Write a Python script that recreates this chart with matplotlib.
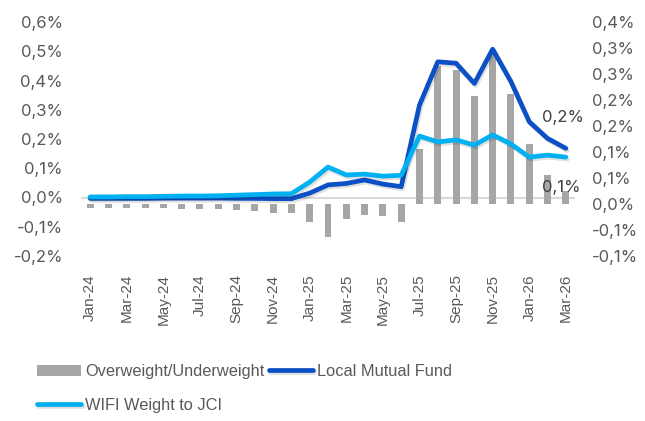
import matplotlib
matplotlib.use('Agg')
import matplotlib.pyplot as plt
import matplotlib.patheffects as pe
from matplotlib.transforms import blended_transform_factory
from decimal import Decimal, ROUND_HALF_UP
import numpy as np

# ----------------------------------------------------------------------------
# Data, monthly Jan-24 .. Mar-26
# ----------------------------------------------------------------------------
months = ['Jan-24', 'Feb-24', 'Mar-24', 'Apr-24', 'May-24', 'Jun-24', 'Jul-24',
          'Aug-24', 'Sep-24', 'Oct-24', 'Nov-24', 'Dec-24',
          'Jan-25', 'Feb-25', 'Mar-25', 'Apr-25', 'May-25', 'Jun-25', 'Jul-25',
          'Aug-25', 'Sep-25', 'Oct-25', 'Nov-25', 'Dec-25',
          'Jan-26', 'Feb-26', 'Mar-26']

# Local Mutual Fund weight (%), left axis
local_mf = [-0.003, -0.003, -0.003, -0.003, -0.002, -0.002, -0.002,
            -0.002, -0.003, -0.003, -0.004, -0.004,
            0.015, 0.043, 0.048, 0.060, 0.046, 0.037, 0.316,
            0.464, 0.459, 0.390, 0.507, 0.396,
            0.259, 0.202, 0.168]

# WIFI weight to JCI (%), left axis
wifi = [0.002, 0.002, 0.003, 0.003, 0.004, 0.005, 0.005,
        0.006, 0.008, 0.010, 0.012, 0.013,
        0.053, 0.104, 0.077, 0.080, 0.073, 0.076, 0.210,
        0.190, 0.197, 0.179, 0.214, 0.183,
        0.138, 0.145, 0.138]

# Overweight / Underweight (%), right axis
ow_uw = [-0.008, -0.008, -0.008, -0.008, -0.008, -0.010, -0.010,
         -0.010, -0.012, -0.014, -0.018, -0.018,
         -0.034, -0.063, -0.029, -0.022, -0.024, -0.035, 0.106,
         0.265, 0.258, 0.208, 0.297, 0.211,
         0.116, 0.056, 0.025]

left_ticks = [-0.2, -0.1, 0.0, 0.1, 0.2, 0.3, 0.4, 0.5, 0.6]
right_ticks = [-0.10, -0.05, 0.00, 0.05, 0.10, 0.15, 0.20, 0.25, 0.30, 0.35]

C_DARK = '#0B50C4'
C_LIGHT = '#00B0F0'
C_BAR = '#A6A6A6'
C_TXT = '#595959'

NUM_FONT = ['Inter', 'DejaVu Sans']
TXT_FONT = ['Liberation Sans', 'DejaVu Sans']


def pct(v):
    d = Decimal(str(round(v, 4))).quantize(Decimal('0.1'), rounding=ROUND_HALF_UP)
    return f'{d}%'.replace('.', ',')


# ----------------------------------------------------------------------------
fig = plt.figure(figsize=(6.45, 4.21), dpi=100)
fig.subplots_adjust(left=81/645, right=575/645, bottom=1-256/421, top=1-22/421)
ax = fig.add_subplot(111)
ax2 = ax.twinx()
ax.set_zorder(ax2.get_zorder() + 1)
ax.patch.set_visible(False)

x = np.arange(len(months))

# bars on the right axis
ax2.bar(x, ow_uw, width=0.38, color=C_BAR, zorder=2, label='Overweight/Underweight')
ax2.set_ylim(right_ticks[0], right_ticks[-1])
ax2.set_yticks(right_ticks)
ax2.set_yticklabels([pct(v) for v in right_ticks], family=NUM_FONT,
                    fontsize=12, color=C_TXT)

# zero line of the left axis
trans = blended_transform_factory(ax2.transAxes, ax.transData)
ax2.plot([0, 1], [0, 0], color='#D9D9D9', lw=1.5, transform=trans, zorder=1)

# lines on the left axis
shadow = [pe.SimpleLineShadow(offset=(1, -1.5), shadow_color='#000000', alpha=0.12),
          pe.Normal()]
ax.plot(x, local_mf, color=C_DARK, lw=3.4, solid_capstyle='round',
        solid_joinstyle='round', path_effects=shadow, label='Local Mutual Fund')
ax.plot(x, wifi, color=C_LIGHT, lw=3.4, solid_capstyle='round',
        solid_joinstyle='round', path_effects=shadow, label='WIFI Weight to JCI')

ax.set_ylim(left_ticks[0], left_ticks[-1])
ax.set_yticks(left_ticks)
ax.set_yticklabels([pct(v) for v in left_ticks], family=NUM_FONT,
                   fontsize=12, color=C_TXT)
ax.set_xlim(-0.5, len(months) - 0.5)
ax.set_xticks(x[::2])
ax.set_xticklabels(months[::2], rotation=90, family=TXT_FONT,
                   fontsize=11, color=C_TXT)

for a in (ax, ax2):
    for s in a.spines.values():
        s.set_visible(False)
ax.tick_params(axis='both', length=0)
ax.tick_params(axis='x', pad=13)
ax.tick_params(axis='y', pad=13)
ax2.tick_params(axis='y', length=0, pad=12)

# data labels at the end of the lines
ax.annotate(pct(local_mf[-1]), (x[-1], local_mf[-1]), xytext=(-17, 22),
            textcoords='offset points', family=NUM_FONT, fontsize=12,
            color='#404040', va='center', ha='left')
ax.annotate(pct(wifi[-1]), (x[-1], wifi[-1]), xytext=(-17, -22),
            textcoords='offset points', family=NUM_FONT, fontsize=12,
            color='#404040', va='center', ha='left')

# legend
h_bar, l_bar = ax2.get_legend_handles_labels()
h_ln, l_ln = ax.get_legend_handles_labels()
handles = [h_bar[0], h_ln[1], h_ln[0]]
labels = [l_bar[0], l_ln[1], l_ln[0]]
leg = fig.legend(handles, labels, loc='upper left', bbox_to_anchor=(37/645, 1-364/421),
                 ncol=2, frameon=False, borderpad=0, borderaxespad=0,
                 handlelength=2.7, handletextpad=0.25, columnspacing=0.25,
                 labelspacing=1.15, prop={'family': TXT_FONT, 'size': 11.8})
for t in leg.get_texts():
    t.set_color(C_TXT)

plt.savefig('out.png', dpi=100)
